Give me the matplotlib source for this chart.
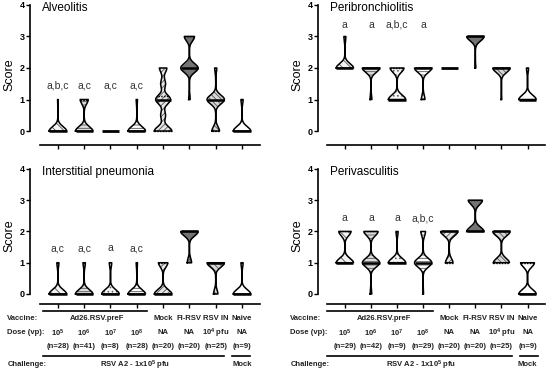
import numpy as np
import matplotlib
matplotlib.use('Agg')
import matplotlib.pyplot as plt
import matplotlib.transforms as mtransforms

plt.rcParams['font.family'] = ['Liberation Sans', 'DejaVu Sans']
plt.rcParams['hatch.linewidth'] = 0.6
plt.rcParams['mathtext.fontset'] = 'custom'
plt.rcParams['mathtext.rm'] = 'Liberation Sans:bold'
plt.rcParams['mathtext.it'] = 'Liberation Sans:bold'
plt.rcParams['mathtext.default'] = 'rm'

# score -> number of animals, one dict per group (x order)
groups = ['10^5', '10^6', '10^7', '10^8', 'Mock', 'FI-RSV', 'RSV IN', 'Naive']

alveolitis = [{0: 27, 1: 1}, {0: 28, 1: 13}, {0: 8}, {0: 26, 1: 2},
              {0: 7, 0.5: 2, 1: 6, 1.5: 2, 2: 3}, {1: 1, 2: 12, 3: 7},
              {0: 7, 1: 16, 2: 2}, {0: 8, 1: 1}]
peribronchiolitis = [{2: 26, 3: 3}, {1: 4, 2: 38}, {1: 5, 2: 4}, {1: 5, 2: 24},
                     {2: 20}, {2: 1, 3: 19}, {1: 1, 2: 24}, {1: 8, 2: 1}]
interstitial = [{0: 25, 1: 3}, {0: 36, 1: 5}, {0: 7, 1: 1}, {0: 26, 1: 2},
                {0: 13, 1: 7}, {1: 4, 2: 16}, {0: 5, 1: 20}, {0: 8, 1: 1}]
perivasculitis = [{1: 17, 2: 12}, {0: 2, 1: 22, 2: 18}, {1: 8, 2: 1}, {0: 1, 1: 22, 2: 6},
                  {1: 6, 2: 14}, {2: 11, 3: 9}, {1: 12, 2: 13}, {0: 5, 1: 4}]

letters_alv = ['a,b,c', 'a,c', 'a,c', 'a,c']
letters_peri = ['a', 'a', 'a,b,c', 'a']
letters_int = ['a,c', 'a,c', 'a', 'a,c']
letters_pv = ['a', 'a', 'a', 'a,b,c']

vaccine = ['Mock', 'FI-RSV', 'RSV IN', 'Naive']
dose = ['10$^5$', '10$^6$', '10$^7$', '10$^8$', 'NA', 'NA', '10$^4$ pfu', 'NA']
n_left = [28, 41, 8, 28, 20, 20, 25, 9]
n_right = [29, 42, 9, 29, 20, 20, 25, 9]

fills = [('#f2f2f2', '\\\\\\\\'), ('#dcdcdc', '-----'), ('#f5f5f5', '....'),
         ('#ffffff', '-----'), ('#e6e6e6', '//////'), ('#737373', None),
         ('#d6d6d6', '\\\\\\\\\\\\'), ('#ffffff', None)]

W, H = 550, 371
fig = plt.figure(figsize=(W / 100, H / 100), dpi=100)


def px_ax(x0, x1, ytop, ybot):
    return fig.add_axes([x0 / W, 1 - ybot / H, (x1 - x0) / W, (ybot - ytop) / H])


def draw_panel(ax, data, title, letters, letter_y, ylo):
    half = 0.33
    h = 0.14
    for i, d in enumerate(data):
        vals = np.repeat(list(d.keys()), list(d.values())).astype(float)
        lo, hi = vals.min(), vals.max()
        if lo == hi:
            ax.plot([i - half, i + half], [lo, lo], color='k', lw=2, solid_capstyle='butt')
            continue
        y = np.linspace(lo, hi, 400)
        dens = np.zeros_like(y)
        for v, c in d.items():
            dens += c * np.exp(-0.5 * ((y - v) / h) ** 2)
        w = dens / dens.max() * half
        fc, hatch = fills[i]
        ax.fill_betweenx(y, i - w, i + w, facecolor=fc, hatch=hatch,
                         edgecolor='#555555', lw=0)
        ax.plot(np.r_[i - w, (i + w)[::-1], i - w[0]], np.r_[y, y[::-1], y[0]],
                color='k', lw=1.1)
        m = np.median(vals)
        wm = np.interp(m, y, w)
        q1, q3 = np.percentile(vals, [25, 75])
        for q in (q1, q3):
            if q != m:
                wq = np.interp(q, y, w)
                ax.plot([i - wq, i + wq], [q, q], color='k', lw=1, ls=(0, (1, 1)))
        ax.plot([i - wm, i + wm], [m, m], color='k', lw=1.8, solid_capstyle='butt')
    for i, t in enumerate(letters):
        ax.text(i, letter_y, t, ha='center', va='center', fontsize=7.5, color='#333333')
    ax.set_ylim(ylo, 4.05)
    ax.set_yticks(range(5))
    ax.set_yticklabels([str(v) for v in range(5)], fontsize=6.5, fontweight='bold')
    ax.set_xticks(range(8))
    ax.set_xticklabels([])
    ax.tick_params(length=3, width=1, pad=1)
    for s in ('top', 'right'):
        ax.spines[s].set_visible(False)
    ax.spines['left'].set_bounds(0, 4)
    ax.spines['bottom'].set_bounds(-0.68, 7.68)
    ax.spines['left'].set_linewidth(1.2)
    ax.spines['bottom'].set_linewidth(1.2)
    ax.set_ylabel('Score', fontsize=9, labelpad=3)
    ax.text(0.05, 0.97, title, transform=ax.transAxes, fontsize=8.5, va='center')


ax1 = px_ax(30, 265.7, 3.4, 145.2)
ax1.set_xlim(-1.06, 7.9)
draw_panel(ax1, alveolitis, 'Alveolitis', letters_alv, 1.43, -0.45)
ax2 = px_ax(318, 551, 3.4, 145.2)
ax2.set_xlim(-1.03, 7.9)
draw_panel(ax2, peribronchiolitis, 'Peribronchiolitis', letters_peri, 3.37, -0.45)
ax3 = px_ax(30, 265.7, 167.4, 304.3)
ax3.set_xlim(-1.06, 7.9)
draw_panel(ax3, interstitial, 'Interstitial pneumonia', letters_int, 1.47, -0.33)
ax4 = px_ax(318, 551, 167.4, 304.3)
ax4.set_xlim(-1.03, 7.9)
draw_panel(ax4, perivasculitis, 'Perivasculitis', letters_pv, 2.43, -0.33)


def table(ax, xlab, n, ad_line, ch_line, mock_line):
    tr = mtransforms.blended_transform_factory(ax.transData, fig.transFigure)
    fy = lambda py: 1 - py / H
    kw = dict(fontsize=5.5, fontweight='bold', color='#222222', va='center')
    fig.text(xlab / W, fy(319), 'Vaccine:', **kw)
    fig.text(xlab / W, fy(333), 'Dose (vp):', **kw)
    fig.text((xlab + 1) / W, fy(365), 'Challenge:', **kw)
    ax.text(1.5, fy(319), 'Ad26.RSV.preF', transform=tr, ha='center', **kw)
    for i, v in enumerate(vaccine):
        ax.text(4 + i, fy(319), v, transform=tr, ha='center', **kw)
    for i, d in enumerate(dose):
        ax.text(i, fy(333), d, transform=tr, ha='center', **kw)
    for i, c in enumerate(n):
        ax.text(i, fy(346), f'(n={c})', transform=tr, ha='center', **kw)
    ax.text(2.93, fy(365), 'RSV A2 - 1x10$^5$ pfu', transform=tr, ha='center', **kw)
    ax.text(7, fy(365), 'Mock', transform=tr, ha='center', **kw)
    ax.plot(ad_line, [fy(311)] * 2, transform=tr, color='k', lw=1.2, clip_on=False)
    ax.plot(ch_line, [fy(356)] * 2, transform=tr, color='k', lw=1.2, clip_on=False)
    ax.plot(mock_line, [fy(356)] * 2, transform=tr, color='k', lw=1.2, clip_on=False)


table(ax3, 7, n_left, [-0.57, 3.38], [-0.57, 6.31], [6.62, 7.3])
table(ax4, 290, n_right, [-0.69, 3.37], [-0.69, 6.4], [6.7, 7.4])

fig.savefig('out.png', dpi=100)
